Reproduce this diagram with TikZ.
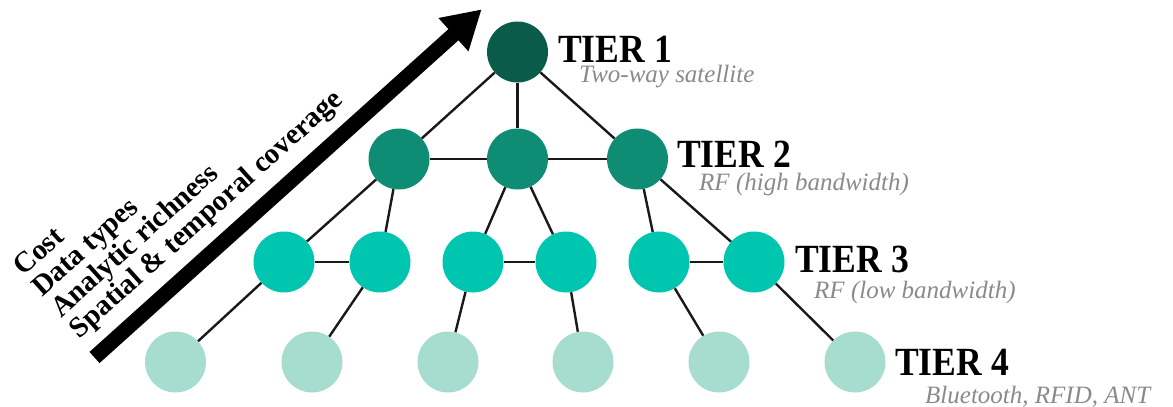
\documentclass[tikz,border=0pt]{standalone}
\usepackage{fontspec}
\setmainfont{Liberation Serif}[BoldFont={Liberation Serif Bold}, ItalicFont={Liberation Serif Italic}, BoldItalicFont={Liberation Serif Bold Italic}]
\usetikzlibrary{arrows.meta}
\definecolor{tone}{HTML}{0B5B4B}
\definecolor{ttwo}{HTML}{0E8D74}
\definecolor{tthree}{HTML}{00C5AF}
\definecolor{tfour}{HTML}{A6DDCE}
\definecolor{subgray}{HTML}{8A8A8A}
\tikzset{
  dot/.style={circle, minimum size=61pt, inner sep=0pt, draw=none},
  dotone/.style={dot, fill=tone},
  dottwo/.style={dot, fill=ttwo},
  dotthree/.style={dot, fill=tthree},
  dotfour/.style={dot, fill=tfour},
  link/.style={line width=2.4pt, draw=black!90},
  tierlabel/.style={font=\bfseries\fontsize{40}{40}\selectfont, xscale=0.89, anchor=base west, inner sep=0pt},
  sublabel/.style={font=\itshape\fontsize{25}{25}\selectfont, text=subgray, anchor=base west, inner sep=0pt},
  sidelabel/.style={font=\bfseries\fontsize{29}{29}\selectfont, rotate=42, anchor=base west, inner sep=0pt},
  bigarrow/.style={line width=15pt, -{Triangle[length=38pt,width=42pt]}}
}
\begin{document}
\begin{tikzpicture}[x=1pt,y=-1pt]
\useasboundingbox (0,0) rectangle (1173,407);
% nodes
\node[dotone] (a) at (517.5,52) {};
\node[dottwo] (b1) at (399,159) {};
\node[dottwo] (b2) at (517.5,159) {};
\node[dottwo] (b3) at (637.5,159) {};
\node[dotthree] (c1) at (284,262) {};
\node[dotthree] (c2) at (380,262) {};
\node[dotthree] (c3) at (473,262) {};
\node[dotthree] (c4) at (566,262) {};
\node[dotthree] (c5) at (659,262) {};
\node[dotthree] (c6) at (754,262) {};
\node[dotfour] (d1) at (175.5,362) {};
\node[dotfour] (d2) at (312,362) {};
\node[dotfour] (d3) at (448,362) {};
\node[dotfour] (d4) at (583,362) {};
\node[dotfour] (d5) at (719,362) {};
\node[dotfour] (d6) at (855,362) {};
% links
\draw[link] (a) -- (b1);
\draw[link] (a) -- (b2);
\draw[link] (a) -- (b3);
\draw[link] (b1) -- (b2);
\draw[link] (b2) -- (b3);
\draw[link] (b1) -- (c1);
\draw[link] (b1) -- (c2);
\draw[link] (b2) -- (c3);
\draw[link] (b2) -- (c4);
\draw[link] (b3) -- (c5);
\draw[link] (b3) -- (c6);
\draw[link] (c1) -- (c2);
\draw[link] (c3) -- (c4);
\draw[link] (c5) -- (c6);
\draw[link] (c1) -- (d1);
\draw[link] (c2) -- (d2);
\draw[link] (c3) -- (d3);
\draw[link] (c4) -- (d4);
\draw[link] (c5) -- (d5);
\draw[link] (c6) -- (d6);
% tier labels
\node[tierlabel] (t1) at (558,62) {TIER 1};
\node[sublabel] (s1) at (579,82) {Two-way satellite};
\node[tierlabel] (t2) at (677,167) {TIER 2};
\node[sublabel] (s2) at (699,190) {RF (high bandwidth)};
\node[tierlabel] (t3) at (795,272) {TIER 3};
\node[sublabel] (s3) at (814,298) {RF (low bandwidth)};
\node[tierlabel] (t4) at (895,375) {TIER 4};
\node[sublabel] (s4) at (925,403) {Bluetooth, RFID, ANT};
% big arrow
\coordinate (tail) at (94.5,357.5);
\coordinate (tip) at (481.7,9.3);
\draw[bigarrow] (tail) -- (tip);
% side labels
\node[sidelabel] (l4) at (23.4,277.0) {Cost};
\node[sidelabel] (l3) at (42.1,297.8) {Data types};
\node[sidelabel] (l2) at (60.9,318.6) {Analytic richness};
\node[sidelabel] (l1) at (79.6,339.4) {Spatial \& temporal coverage};
\end{tikzpicture}
\end{document}
